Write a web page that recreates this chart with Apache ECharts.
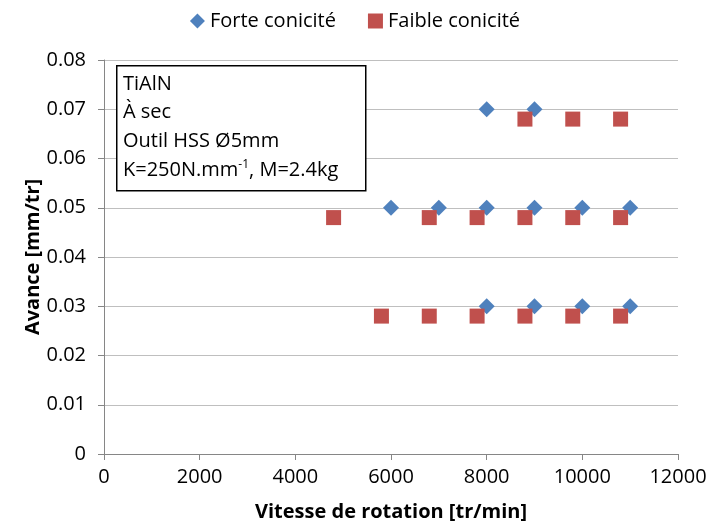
<!DOCTYPE html>
<html>
<head>
<meta charset="utf-8">
<script src="https://cdn.jsdelivr.net/npm/echarts@6/dist/echarts.min.js"></script>
<style>html,body{margin:0;padding:0;background:#fff}#c{width:710px;height:529px}</style>
</head>
<body>
<div id="c"></div>
<script>
const seriesNames = ['Forte conicité', 'Faible conicité'];
const forteX = [8000, 9000, 6000, 7000, 8000, 9000, 10000, 11000, 8000, 9000, 10000, 11000];
const forteY = [0.07, 0.07, 0.05, 0.05, 0.05, 0.05, 0.05, 0.05, 0.03, 0.03, 0.03, 0.03];
const faibleX = [8800, 9800, 10800, 4800, 6800, 7800, 8800, 9800, 10800, 5800, 6800, 7800, 8800, 9800, 10800];
const faibleY = [0.068, 0.068, 0.068, 0.048, 0.048, 0.048, 0.048, 0.048, 0.048, 0.028, 0.028, 0.028, 0.028, 0.028, 0.028];
const annotationLines = ['TiAlN', 'À sec', 'Outil HSS Ø5mm'];
const annotationLast = ['K=250N.mm', '-1', ', M=2.4kg'];
const xTitle = 'Vitesse de rotation [tr/min]';
const yTitle = 'Avance [mm/tr]';

const font = '"Open Sans", "Noto Sans", sans-serif';
const FS = 20;
const chart = echarts.init(document.getElementById('c'));
const richText = annotationLines.map(l => '{n|' + l + '}').join('\n') + '\n' +
  '{n|' + annotationLast[0] + '}{s|' + annotationLast[1] + '}{n|' + annotationLast[2] + '}';
chart.setOption({
  animation: false,
  textStyle: { fontFamily: font },
  legend: {
    top: 6, left: 'center', itemGap: 32, itemWidth: 15, itemHeight: 15,
    textStyle: { fontSize: FS, color: '#000', fontFamily: font },
    data: [{ name: seriesNames[0], icon: 'diamond' }, { name: seriesNames[1], icon: 'rect' }]
  },
  grid: { left: 104, right: 32, top: 60, bottom: 75, containLabel: false },
  xAxis: {
    type: 'value', min: 0, max: 12000, interval: 2000,
    name: xTitle, nameLocation: 'middle', nameGap: 48,
    nameTextStyle: { fontSize: FS, fontWeight: 'bold', color: '#000', fontFamily: font },
    axisLine: { show: true, lineStyle: { color: '#868686' } },
    axisTick: { show: true, inside: false, length: 6, lineStyle: { color: '#868686' } },
    axisLabel: { fontSize: FS, color: '#000', margin: 13, formatter: v => String(v) },
    splitLine: { show: false }
  },
  yAxis: {
    type: 'value', min: 0, max: 0.08, interval: 0.01,
    name: yTitle, nameLocation: 'middle', nameGap: 61, nameMoveOverlap: false,
    nameTextStyle: { fontSize: FS, fontWeight: 'bold', color: '#000', fontFamily: font },
    axisLine: { show: true, lineStyle: { color: '#868686' } },
    axisTick: { show: true, inside: false, length: 6, lineStyle: { color: '#868686' } },
    axisLabel: { fontSize: FS, color: '#000', margin: 18, formatter: v => v === 0 ? '0' : v.toFixed(2) },
    splitLine: { show: true, lineStyle: { color: '#BFBFBF', width: 1 } }
  },
  series: [
    {
      name: seriesNames[0], type: 'scatter', symbol: 'diamond', symbolSize: 16,
      itemStyle: { color: '#4F81BD', opacity: 1 }, z: 3,
      data: forteX.map((x, i) => [x, forteY[i]])
    },
    {
      name: seriesNames[1], type: 'scatter', symbol: 'rect', symbolSize: 15,
      itemStyle: { color: '#C0504D', opacity: 1 }, z: 4,
      data: faibleX.map((x, i) => [x, faibleY[i]])
    }
  ],
  graphic: [
    {
      type: 'rect', left: 116, top: 65, z: 10,
      shape: { width: 249, height: 125 },
      style: { fill: '#fff', stroke: '#000', lineWidth: 1.5 }
    },
    {
      type: 'text', left: 123, top: 74, z: 11,
      style: {
        text: richText, fill: '#000',
        rich: {
          n: { fontSize: FS, fontFamily: font, lineHeight: 28.7, color: '#000' },
          s: { fontSize: 12, fontFamily: font, lineHeight: 28.7, color: '#000', verticalAlign: 'top', padding: [3, 0, 0, 0] }
        }
      }
    }
  ]
});
</script>
</body>
</html>
